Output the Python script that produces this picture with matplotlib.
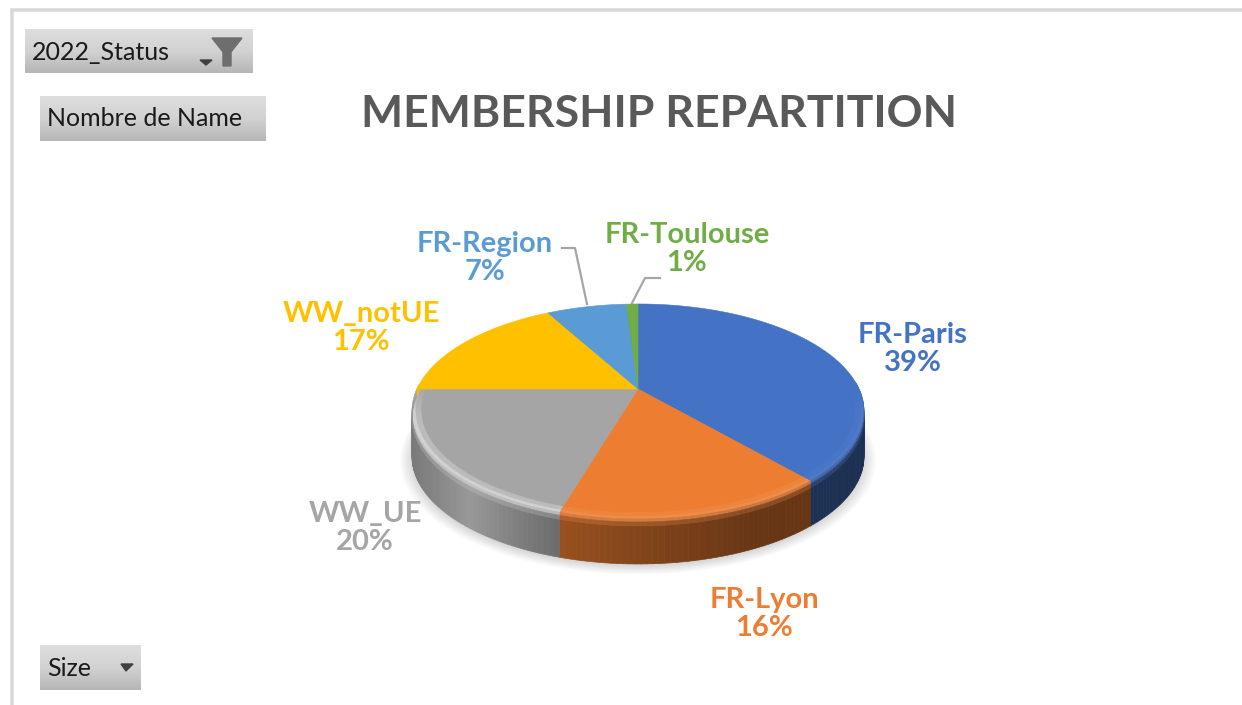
import matplotlib
matplotlib.use("Agg")
import matplotlib.pyplot as plt
import numpy as np
from matplotlib.collections import PolyCollection
from matplotlib.colors import to_rgb, LinearSegmentedColormap

plt.rcParams['font.family'] = ['Lato', 'DejaVu Sans']

# valeurs
categories = ["FR-Paris", "FR-Lyon", "WW_UE", "WW_notUE", "FR-Region", "FR-Toulouse"]
shares = [38.6, 16.0, 20.4, 17.0, 7.0, 1.0]
title = "MEMBERSHIP REPARTITION"
filter_labels = ["2022_Status", "Nombre de Name", "Size"]

colors = ["#4472c4", "#ed7d31", "#a5a5a5", "#ffc000", "#5b9bd5", "#70ad47"]
label_pos = [(913, 349), (764, 614), (365, 528), (361, 328), (485, 258), (687, 249)]
rim_light = [0.06, 0.12, 0.5, 0.0, 0.0, 0.0]

CX, CY = 638, 389
RX, RY, K = 221, 102.8, 0.209
DEPTH = 45
RIM_R, RIM_D = 0.962, 7


def project(t, r=1.0, d=0.0):
    # disque vu en perspective, t en radians depuis le haut, sens horaire
    xx = r * np.sin(t)
    yy = r * np.cos(t)
    w = 1 + K * yy
    return CX + RX * xx / w, CY - RY * yy / w + d


def side_shade(x):
    return np.interp(x, [413, 470, 520, 563, 650, 750, 866],
                     [0.74, 0.92, 0.76, 0.64, 0.54, 0.44, 0.42])


def button(ax, x0, y0, x1, y1):
    grad = LinearSegmentedColormap.from_list("btn", ["#dedede", "#d2d2d2", "#b6b6b6"])
    ax.imshow(np.linspace(0, 1, 64).reshape(-1, 1), cmap=grad, aspect="auto",
              extent=(x0, x1, y1, y0), zorder=2)


fig = plt.figure(figsize=(12.42, 7.05), dpi=100, facecolor="white")
ax = fig.add_axes([0, 0, 1, 1])

# cadre
ax.plot([12, 12, 1242], [705, 10, 10], color="#d9d9d9", lw=2.6, solid_joinstyle="miter", zorder=1)

# boutons du tableau croise
button(ax, 25, 29, 253, 73)
button(ax, 40, 96, 266, 141)
button(ax, 40, 645, 141, 690)
ax.text(32, 52, filter_labels[0], fontsize=18, color="#1a1a1a", va="center", zorder=3)
ax.text(47, 119, filter_labels[1], fontsize=18, color="#1a1a1a", va="center", zorder=3)
ax.text(47, 668, filter_labels[2], fontsize=18, color="#1a1a1a", va="center", zorder=3)
ax.fill([200, 212, 206], [60, 60, 65], color="#404040", zorder=3)
ax.fill([118 + 3, 133 - 3 + 3, 126], [664, 664, 671], color="#404040", zorder=3)
ax.fill([212, 242, 231, 231, 223, 223], [38, 38, 52, 66, 66, 52], color="#6e6e6e", zorder=3)

# titre
ax.text(659, 114, title, fontsize=32, fontweight="bold", color="#595959",
        ha="center", va="center", zorder=3)

# ombre sous le disque
tt = np.linspace(0, 2 * np.pi, 240)
for e in np.linspace(1.05, 1.0, 8):
    sx, sy = project(tt, e, DEPTH + 2)
    ax.fill(sx, sy, color="black", alpha=0.018, lw=0, zorder=3)

bounds = np.radians(np.concatenate([[0], np.cumsum(shares)]) * 3.6)

# flanc
side_polys, side_cols = [], []
rim_polys, rim_cols = [], []
for i, col in enumerate(colors):
    base = np.array(to_rgb(col))
    ts = np.linspace(bounds[i], bounds[i + 1], max(int(shares[i] * 3), 3))
    for a, b in zip(ts[:-1], ts[1:]):
        m = (a + b) / 2
        xm = project(m)[0]
        side = np.clip(base * side_shade(xm), 0, 1)
        xa0, ya0 = project(a, 1, RIM_D)
        xb0, yb0 = project(b, 1, RIM_D)
        xa1, ya1 = project(a, 1, DEPTH)
        xb1, yb1 = project(b, 1, DEPTH)
        side_polys.append([(xa0, ya0), (xb0, yb0), (xb1, yb1), (xa1, ya1)])
        side_cols.append(side)
        # biseau entre le dessus et le flanc
        front = np.clip((0.05 - np.cos(m)) / 0.3, 0, 1)
        if np.cos(m) > 0.05:
            continue
        light = base + (1 - base) * rim_light[i] * front
        dark = base * (1 - front) + side * front
        rows = [(RIM_R, 0, base), (0.985, 0, light), (1.0, 0, light),
                (1.0, 3, (light + dark) / 2), (1.0, RIM_D, dark)]
        for (r0, d0, c0), (r1, d1, c1) in zip(rows[:-1], rows[1:]):
            xa0, ya0 = project(a, r0, d0)
            xb0, yb0 = project(b, r0, d0)
            xa1, ya1 = project(a, r1, d1)
            xb1, yb1 = project(b, r1, d1)
            rim_polys.append([(xa0, ya0), (xb0, yb0), (xb1, yb1), (xa1, ya1)])
            rim_cols.append((c0 + c1) / 2)

ax.add_collection(PolyCollection(side_polys, facecolors=side_cols, edgecolors=side_cols,
                                 linewidths=0.5, zorder=4))

# dessus
for i, col in enumerate(colors):
    ts = np.linspace(bounds[i], bounds[i + 1], max(int(shares[i] * 3), 6))
    px, py = project(ts)
    ax.fill(np.r_[CX, px], np.r_[CY, py], color=col, lw=0.4, zorder=5)

ax.add_collection(PolyCollection(rim_polys, facecolors=rim_cols, edgecolors=rim_cols,
                                 linewidths=0.4, zorder=6))

# traits de rappel
ax.plot([562, 575, 587], [248, 248, 304], color="#a6a6a6", lw=1.6, zorder=7)
ax.plot([660, 645, 632], [278, 278, 303], color="#a6a6a6", lw=1.6, zorder=7)

# etiquettes
for name, val, col, pos in zip(categories, shares, colors, label_pos):
    ax.text(pos[0], pos[1], "%s\n%d%%" % (name, round(val)), fontsize=21, fontweight="bold",
            color=col, ha="center", va="center", linespacing=1.12, zorder=8)

ax.set_xlim(0, 1242)
ax.set_ylim(705, 0)
ax.axis("off")
fig.savefig("out.png", dpi=100)
